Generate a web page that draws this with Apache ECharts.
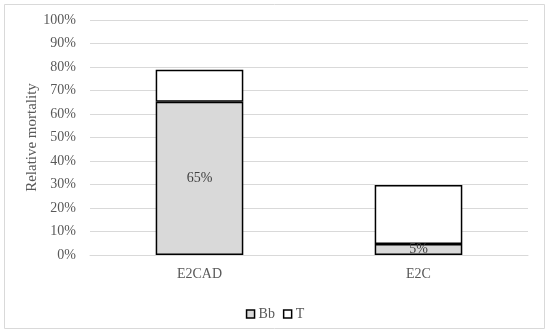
<!DOCTYPE html>
<html><head><meta charset="utf-8">
<script src="https://cdn.jsdelivr.net/npm/echarts@6/dist/echarts.min.js"></script>
<style>html,body{margin:0;padding:0;background:#fff}#c{width:550px;height:333px}</style>
</head><body><div id="c"></div>
<script>
const categories = ['E2CAD', 'E2C'];
const bbValues = [65.2, 4.7];
const tValues = [13.6, 25.1];
const yTicks = [0, 10, 20, 30, 40, 50, 60, 70, 80, 90, 100];

const font = 'Liberation Serif';
const chart = echarts.init(document.getElementById('c'));
chart.setOption({
  animation: false,
  textStyle: { fontFamily: font },
  graphic: [{
    type: 'rect', shape: { x: 4.5, y: 4.5, width: 540, height: 324 },
    style: { fill: 'none', stroke: '#d9d9d9', lineWidth: 1 }, z: -1
  }],
  grid: { left: 90, right: 22, top: 20, bottom: 78, containLabel: false },
  legend: {
    bottom: 7, left: 'center', itemWidth: 8, itemHeight: 8, itemGap: 8,
    textStyle: { fontFamily: font, fontSize: 14, color: '#595959', padding: [0, 0, 0, -1] },
    data: [
      { name: 'Bb', icon: 'rect', itemStyle: { color: '#d9d9d9', borderColor: '#000', borderWidth: 1.5 } },
      { name: 'T', icon: 'rect', itemStyle: { color: '#fff', borderColor: '#000', borderWidth: 1.5 } }
    ]
  },
  xAxis: {
    type: 'category', data: categories,
    axisLine: { lineStyle: { color: '#d9d9d9' } },
    axisTick: { show: false },
    axisLabel: { fontFamily: font, fontSize: 14, color: '#595959', margin: 12 }
  },
  yAxis: {
    type: 'value', min: 0, max: 100, interval: 10,
    name: 'Relative mortality', nameLocation: 'middle', nameGap: 50, nameRotate: 90,
    nameMoveOverlap: false,
    nameTextStyle: { fontFamily: font, fontSize: 15, color: '#595959' },
    axisLine: { show: false }, axisTick: { show: false },
    splitLine: { lineStyle: { color: '#d9d9d9' } },
    axisLabel: { fontFamily: font, fontSize: 14, color: '#595959', margin: 14,
      formatter: v => yTicks.includes(v) ? v + '%' : '' }
  },
  series: [
    { name: 'Bb', type: 'bar', stack: 's', data: bbValues, barWidth: '40%',
      itemStyle: { color: '#d9d9d9', borderColor: '#000', borderWidth: 1.5 },
      label: { show: true, position: 'inside', fontFamily: font, fontSize: 14, color: '#404040',
        formatter: p => Math.round(p.value) + '%' } },
    { name: 'T', type: 'bar', stack: 's', data: tValues, barWidth: '40%',
      itemStyle: { color: '#fff', borderColor: '#000', borderWidth: 1.5 } }
  ]
});
</script></body></html>
